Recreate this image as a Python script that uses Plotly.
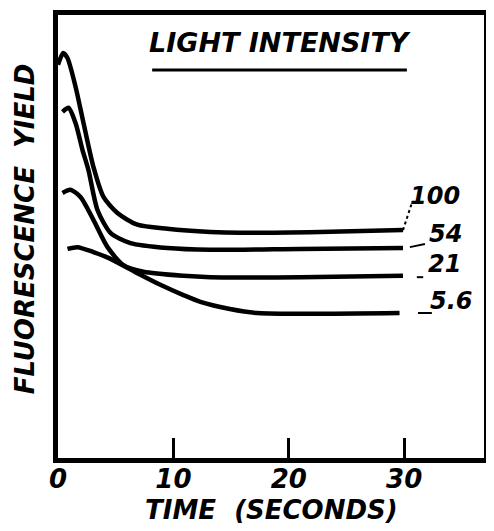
import plotly.graph_objects as go

# ---- data ----
intensities = ["100", "54", "21", "5.6"]
t_100 = [0.0, 0.45, 0.82, 1.52, 2.21, 3.07, 3.94, 5.15, 6.88, 9.48, 13.2, 15.8, 22.7, 29.9]
y_100 = [88.2, 90.8, 89.7, 83.3, 75.2, 65.4, 58.7, 55.1, 52.5, 51.6, 50.9, 50.7, 50.9, 51.3]
t_54 = [0.39, 0.91, 1.52, 2.12, 2.64, 3.42, 4.55, 6.28, 9.48, 13.2, 21.0, 29.9]
y_54 = [77.7, 78.6, 75.2, 69.2, 64.7, 55.8, 50.7, 48.4, 47.3, 46.9, 47.1, 47.3]
t_21 = [0.39, 1.08, 1.95, 3.07, 4.29, 5.67, 7.40, 10.87, 13.2, 21.0, 29.9]
y_21 = [59.6, 60.3, 58.7, 53.6, 47.5, 43.5, 42.0, 41.1, 40.8, 40.8, 41.1]
t_56 = [0.82, 1.69, 3.07, 4.37, 6.88, 8.87, 10.87, 12.34, 14.9, 17.3, 29.6]
y_56 = [47.1, 47.5, 46.4, 45.1, 41.7, 39.1, 36.8, 35.3, 33.7, 32.8, 32.8]
x_ticks = [0, 10, 20, 30]
x_tick_labels = ["0", "10", "20", "30"]

series = [(t_100, y_100), (t_54, y_54), (t_21, y_21), (t_56, y_56)]

FONT = "DejaVu Sans"
INK = "#000000"


def hand_font(size):
    return dict(family=FONT, size=size, color=INK, weight="bold", style="italic")


fig = go.Figure()
for (t, y), name in zip(series, intensities):
    fig.add_trace(go.Scatter(x=t, y=y, mode="lines", name=name,
                             line=dict(color=INK, width=4.5, shape="spline", smoothing=0.7),
                             showlegend=False, hoverinfo="skip", cliponaxis=False))

# label placement (pixel offsets from each curve end)
label_style = {
    "100": dict(dx=32, dy=34),
    "54": dict(dx=42, dy=14),
    "21": dict(dx=41, dy=12),
    "5.6": dict(dx=52, dy=12),
}
for (t, y), name in zip(series, intensities):
    st = label_style[name]
    fig.add_annotation(x=t[-1], y=y[-1], xref="x", yref="y", text=name,
                       showarrow=False, xshift=st["dx"], yshift=st["dy"],
                       font=hand_font(24))

# leader marks next to the labels
fig.add_shape(type="line", xref="x", yref="y", x0=t_100[-1], y0=y_100[-1],
              x1=t_100[-1] + 0.8, y1=y_100[-1] + 6.3, line=dict(color=INK, width=2, dash="dot"))
fig.add_shape(type="line", xref="x", yref="y", x0=t_54[-1] + 0.6, y0=y_54[-1] + 0.2,
              x1=t_54[-1] + 1.9, y1=y_54[-1] + 0.9, line=dict(color=INK, width=2))
fig.add_shape(type="line", xref="x", yref="y", x0=t_21[-1] + 1.2, y0=y_21[-1] - 0.3,
              x1=t_21[-1] + 1.75, y1=y_21[-1] - 0.3, line=dict(color=INK, width=2))
fig.add_shape(type="line", xref="x", yref="y", x0=t_56[-1] + 1.6, y0=y_56[-1],
              x1=t_56[-1] + 2.8, y1=y_56[-1], line=dict(color=INK, width=2))

# legend title with underline
fig.add_annotation(x=0.521, y=0.939, xref="paper", yref="paper", text="LIGHT INTENSITY",
                   showarrow=False, xanchor="center", yanchor="middle", font=hand_font(27))
fig.add_shape(type="line", xref="paper", yref="paper", x0=0.221, x1=0.819, y0=0.876, y1=0.876,
              line=dict(color=INK, width=3))

# axis titles
fig.add_annotation(x=0.502, y=-0.117, xref="paper", yref="paper", text="TIME  (SECONDS)",
                   showarrow=False, xanchor="center", yanchor="middle", font=hand_font(26))
fig.add_annotation(x=-0.077, y=0.517, xref="paper", yref="paper", text="FLUORESCENCE  YIELD",
                   showarrow=False, xanchor="center", yanchor="middle", textangle=-90,
                   font=hand_font(26))

# the page body keeps an 8px margin, so the figure is sized to fit inside it
fig.update_layout(
    width=486, height=523,
    margin=dict(l=50, r=10, t=7, b=73),
    paper_bgcolor="white", plot_bgcolor="white",
    font=dict(family=FONT, color=INK),
    xaxis=dict(range=[0, 36.92], tickvals=x_ticks, ticktext=x_tick_labels,
               ticks="inside", ticklen=20, tickwidth=3, tickcolor=INK,
               showline=True, linewidth=5, linecolor=INK, mirror=True,
               showgrid=False, zeroline=False, automargin=False,
               ticklabelstandoff=-6,
               tickfont=hand_font(26)),
    yaxis=dict(range=[0.45, 99.3], showticklabels=False, ticks="",
               showline=True, linewidth=5, linecolor=INK, mirror=True,
               showgrid=False, zeroline=False, automargin=False),
)

fig.write_html("out.html")
